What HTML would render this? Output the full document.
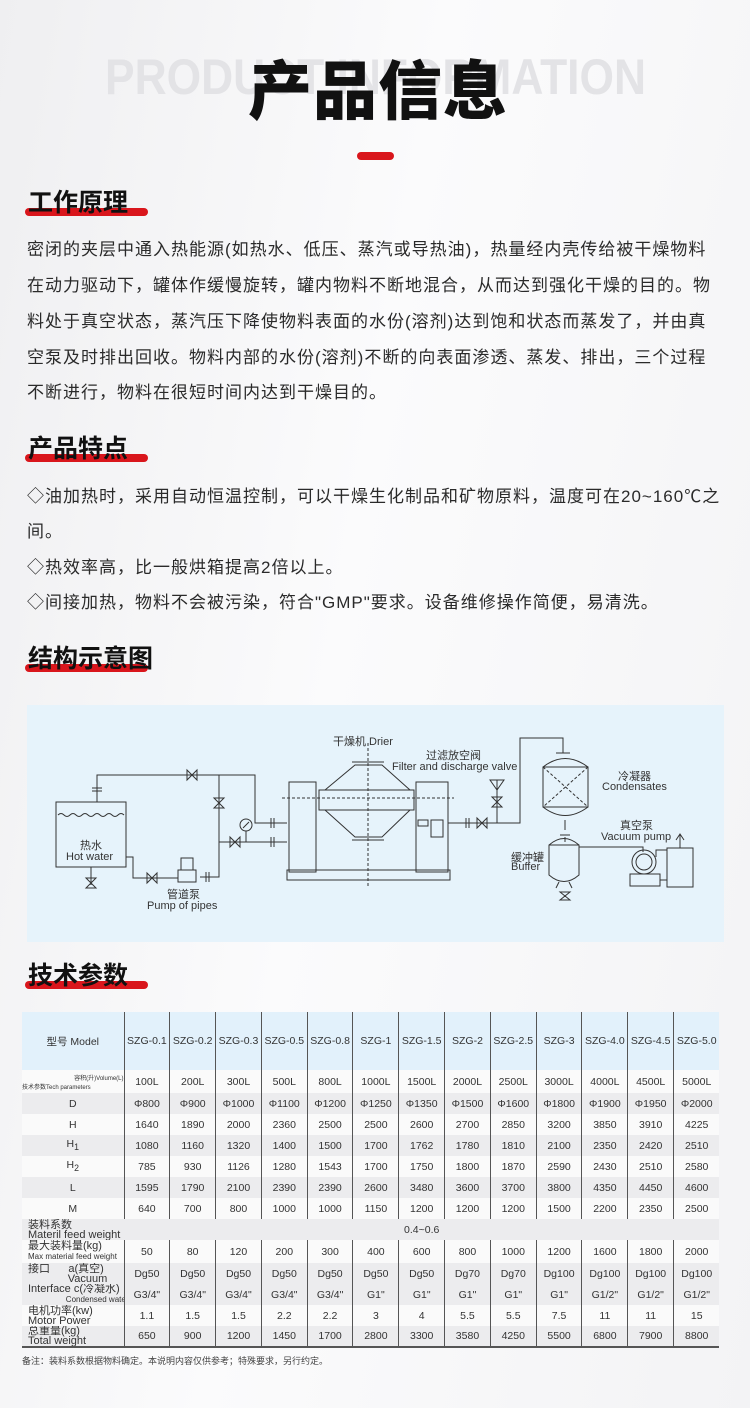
<!DOCTYPE html>
<html><head><meta charset="utf-8"><style>
*{margin:0;padding:0;box-sizing:border-box}
body{width:750px;height:1408px;position:relative;overflow:hidden;background:linear-gradient(100deg,#efeff1 0%,#fbfbfc 45%,#f3f3f5 100%);font-family:"Liberation Sans","Noto Sans CJK SC",sans-serif;color:#222}
.abs{position:absolute;white-space:nowrap}
.h{position:absolute;left:28px;font-size:25px;font-weight:bold;color:#111;line-height:26px}
.bar{position:absolute;left:25px;width:123px;height:8px;background:#d9161c;border-radius:4px}
.p{position:absolute;left:27px;font-size:17px;letter-spacing:1px;color:#2a2a2a;line-height:20px;white-space:nowrap}
table{position:absolute;left:22px;top:1012px;width:697px;border-collapse:collapse;font-size:10.5px;color:#333;table-layout:fixed}
td{text-align:center;height:21px;padding:0;white-space:nowrap;overflow:hidden}
td+td{border-left:1px solid #555}
tr.g td{background:#ececee}
tr.w td{background:#fafafa}
.l{text-align:left;padding-left:6px;line-height:10px;font-size:11px}
.l small{font-size:8px}
</style></head><body>
<svg class="abs" style="left:0;top:50px" width="750" height="60"><text x="105" y="44" textLength="541" lengthAdjust="spacingAndGlyphs" font-size="50" font-weight="bold" fill="#e3e3e6" font-family="Liberation Sans">PRODUCT INFORMATION</text></svg>
<div class="abs" style="left:248px;top:52px;font-size:64px;font-weight:900;color:#111;line-height:80px;letter-spacing:1px">产品信息</div>
<div class="abs" style="left:357px;top:152px;width:37px;height:8px;background:#d9161c;border-radius:4px"></div>

<div class="bar" style="top:208px"></div><div class="h" style="top:190px">工作原理</div>
<div class="p" style="top:240px">密闭的夹层中通入热能源(如热水、低压、蒸汽或导热油)，热量经内壳传给被干燥物料</div>
<div class="p" style="top:276px">在动力驱动下，罐体作缓慢旋转，罐内物料不断地混合，从而达到强化干燥的目的。物</div>
<div class="p" style="top:312px">料处于真空状态，蒸汽压下降使物料表面的水份(溶剂)达到饱和状态而蒸发了，并由真</div>
<div class="p" style="top:348px">空泵及时排出回收。物料内部的水份(溶剂)不断的向表面渗透、蒸发、排出，三个过程</div>
<div class="p" style="top:383px">不断进行，物料在很短时间内达到干燥目的。</div>

<div class="bar" style="top:454px"></div><div class="h" style="top:436px">产品特点</div>
<div class="p" style="top:487px">◇油加热时，采用自动恒温控制，可以干燥生化制品和矿物原料，温度可在20~160℃之</div>
<div class="p" style="top:522px">间。</div>
<div class="p" style="top:558px">◇热效率高，比一般烘箱提高2倍以上。</div>
<div class="p" style="top:593px">◇间接加热，物料不会被污染，符合"GMP"要求。设备维修操作简便，易清洗。</div>

<div class="bar" style="top:664px"></div><div class="h" style="top:646px">结构示意图</div>

<svg class="abs" style="left:0;top:0" width="750" height="960" fill="none" stroke="#333" stroke-width="1">
<rect x="27" y="705" width="697" height="237" fill="#e6f3fb" stroke="none"/>
<rect x="56" y="802" width="70" height="65"/>
<path d="M58 815 q3 -3 6 0 t6 0 t6 0 t6 0 t6 0 t6 0 t6 0 t6 0 t6 0 t6 0 t6 0"/>
<path d="M97 802 V775 H255 V823 H287 M219 775 V877 H200 M219 842 H287 M126 857 H133 V878 H178 M91 867 V885"/>
<path d="M92 788 h10 M92 791 h10 M271 818 v10 M274 818 v10 M271 837 v10 M274 837 v10 M206 872 v10 M209 872 v10"/>
<path d="M187 770 l10 10 v-10 l-10 10z M214 798 l10 10 h-10 l10 -10z M230 837 l10 10 v-10 l-10 10z M147 873 l10 10 v-10 l-10 10z M86 878 l10 10 h-10 l10 -10z"/>
<circle cx="246" cy="825" r="6"/><path d="M246 831 V842 M243 828 l6 -6"/>
<rect x="178" y="870" width="18" height="12"/><rect x="181" y="858" width="12" height="12"/>
<rect x="289" y="782" width="27" height="90"/><rect x="416" y="782" width="32" height="90"/>
<rect x="287" y="870" width="163" height="10"/>
<rect x="319" y="790" width="95" height="20"/>
<path d="M325 790 L355 765 H382 L410 790 M325 810 L355 837 H382 L410 810 M352 762 h32 M352 840 h32"/>
<path d="M368 743 V888 M282 798 H454" stroke-dasharray="3 2"/>
<rect x="418" y="820" width="10" height="6"/><rect x="431" y="820" width="12" height="17"/>
<path d="M448 823 H520 V738 H563 V753 M497 823 V780"/>
<path d="M466 818 v10 M469 818 v10 M477 818 l10 10 v-10 l-10 10z M492 797 l10 10 h-10 l10 -10z M490 780 h14 l-7 10z"/>
<path d="M556 753 h14 M543 767 Q565 750 588 767 M543 807 Q565 824 588 807"/>
<rect x="543" y="767" width="45" height="40"/>
<path d="M543 767 L588 807 M588 767 L543 807" stroke-dasharray="3 2"/>
<path d="M565 820 V830 M560 835 h10 M565 837 V842"/>
<path d="M549 845 Q564 832 579 845 V875 Q564 888 549 875Z M549 845 H579 M579 847 H643 V852 M559 882 l-3 6 M569 882 l3 6 M560 892 l10 8 h-10 l10 -8z"/>
<circle cx="644" cy="862" r="12"/><circle cx="644" cy="862" r="8"/>
<rect x="630" y="874" width="30" height="12"/>
<rect x="667" y="848" width="26" height="39"/><path d="M680 848 V835 M676 840 l4 -6 4 6"/>
<path d="M656 857 V850 H667 M660 880 H667"/>
</svg>
<div class="abs" style="left:333px;top:733px;font-size:11px;color:#333">干燥机 Drier</div>
<div class="abs" style="left:426px;top:747px;font-size:11px;color:#333">过滤放空阀</div>
<div class="abs" style="left:392px;top:761px;font-size:11px;color:#333">Filter and discharge valve</div>
<div class="abs" style="left:618px;top:768px;font-size:11px;color:#333">冷凝器</div>
<div class="abs" style="left:602px;top:781px;font-size:11px;color:#333">Condensates</div>
<div class="abs" style="left:620px;top:817px;font-size:11px;color:#333">真空泵</div>
<div class="abs" style="left:601px;top:831px;font-size:11px;color:#333">Vacuum pump</div>
<div class="abs" style="left:511px;top:849px;font-size:11px;color:#333">缓冲罐</div>
<div class="abs" style="left:511px;top:861px;font-size:11px;color:#333">Buffer</div>
<div class="abs" style="left:80px;top:837px;font-size:11px;color:#333">热水</div>
<div class="abs" style="left:66px;top:851px;font-size:11px;color:#333">Hot water</div>
<div class="abs" style="left:167px;top:886px;font-size:11px;color:#333">管道泵</div>
<div class="abs" style="left:147px;top:900px;font-size:11px;color:#333">Pump of pipes</div>

<div class="bar" style="top:981px"></div><div class="h" style="top:963px">技术参数</div>

<table>
<colgroup><col style="width:102px"><col span="13" style="width:45.8px"></colgroup>
<tr style="height:58px"><td style="background:#e2f1fb">型号 Model</td><td style="background:#e2f1fb">SZG-0.1</td><td style="background:#e2f1fb">SZG-0.2</td><td style="background:#e2f1fb">SZG-0.3</td><td style="background:#e2f1fb">SZG-0.5</td><td style="background:#e2f1fb">SZG-0.8</td><td style="background:#e2f1fb">SZG-1</td><td style="background:#e2f1fb">SZG-1.5</td><td style="background:#e2f1fb">SZG-2</td><td style="background:#e2f1fb">SZG-2.5</td><td style="background:#e2f1fb">SZG-3</td><td style="background:#e2f1fb">SZG-4.0</td><td style="background:#e2f1fb">SZG-4.5</td><td style="background:#e2f1fb">SZG-5.0</td></tr>
<tr class="w" style="height:23px"><td style="font-size:6px;text-align:right">容积(升)Volume(L)<br><span style="float:left">技术参数Tech parameters</span></td><td>100L</td><td>200L</td><td>300L</td><td>500L</td><td>800L</td><td>1000L</td><td>1500L</td><td>2000L</td><td>2500L</td><td>3000L</td><td>4000L</td><td>4500L</td><td>5000L</td></tr>
<tr class="g"><td>D</td><td>Φ800</td><td>Φ900</td><td>Φ1000</td><td>Φ1100</td><td>Φ1200</td><td>Φ1250</td><td>Φ1350</td><td>Φ1500</td><td>Φ1600</td><td>Φ1800</td><td>Φ1900</td><td>Φ1950</td><td>Φ2000</td></tr>
<tr class="w"><td>H</td><td>1640</td><td>1890</td><td>2000</td><td>2360</td><td>2500</td><td>2500</td><td>2600</td><td>2700</td><td>2850</td><td>3200</td><td>3850</td><td>3910</td><td>4225</td></tr>
<tr class="g"><td>H<sub>1</sub></td><td>1080</td><td>1160</td><td>1320</td><td>1400</td><td>1500</td><td>1700</td><td>1762</td><td>1780</td><td>1810</td><td>2100</td><td>2350</td><td>2420</td><td>2510</td></tr>
<tr class="w"><td>H<sub>2</sub></td><td>785</td><td>930</td><td>1126</td><td>1280</td><td>1543</td><td>1700</td><td>1750</td><td>1800</td><td>1870</td><td>2590</td><td>2430</td><td>2510</td><td>2580</td></tr>
<tr class="g"><td>L</td><td>1595</td><td>1790</td><td>2100</td><td>2390</td><td>2390</td><td>2600</td><td>3480</td><td>3600</td><td>3700</td><td>3800</td><td>4350</td><td>4450</td><td>4600</td></tr>
<tr class="w"><td>M</td><td>640</td><td>700</td><td>800</td><td>1000</td><td>1000</td><td>1150</td><td>1200</td><td>1200</td><td>1200</td><td>1500</td><td>2200</td><td>2350</td><td>2500</td></tr>
<tr class="g"><td class="l">装料系数<br>Materil feed weight</td><td colspan="13" style="border-left:none">0.4~0.6</td></tr>
<tr class="w" style="height:23px"><td class="l">最大装料量(kg)<br><small>Max material feed weight</small></td><td>50</td><td>80</td><td>120</td><td>200</td><td>300</td><td>400</td><td>600</td><td>800</td><td>1000</td><td>1200</td><td>1600</td><td>1800</td><td>2000</td></tr>
<tr class="g"><td class="l">接口&nbsp;&nbsp;&nbsp;&nbsp;&nbsp;&nbsp;a(真空)<br>&nbsp;&nbsp;&nbsp;&nbsp;&nbsp;&nbsp;&nbsp;&nbsp;&nbsp;&nbsp;&nbsp;&nbsp;&nbsp;Vacuum</td><td>Dg50</td><td>Dg50</td><td>Dg50</td><td>Dg50</td><td>Dg50</td><td>Dg50</td><td>Dg50</td><td>Dg70</td><td>Dg70</td><td>Dg100</td><td>Dg100</td><td>Dg100</td><td>Dg100</td></tr>
<tr class="g"><td class="l">Interface c(冷凝水)<br><small>&nbsp;&nbsp;&nbsp;&nbsp;&nbsp;&nbsp;&nbsp;&nbsp;&nbsp;&nbsp;&nbsp;&nbsp;&nbsp;&nbsp;&nbsp;&nbsp;&nbsp;Condensed water</small></td><td>G3/4"</td><td>G3/4"</td><td>G3/4"</td><td>G3/4"</td><td>G3/4"</td><td>G1"</td><td>G1"</td><td>G1"</td><td>G1"</td><td>G1"</td><td>G1/2"</td><td>G1/2"</td><td>G1/2"</td></tr>
<tr class="w"><td class="l">电机功率(kw)<br>Motor Power</td><td>1.1</td><td>1.5</td><td>1.5</td><td>2.2</td><td>2.2</td><td>3</td><td>4</td><td>5.5</td><td>5.5</td><td>7.5</td><td>11</td><td>11</td><td>15</td></tr>
<tr class="g" style="border-bottom:2px solid #555"><td class="l">总重量(kg)<br>Total weight</td><td>650</td><td>900</td><td>1200</td><td>1450</td><td>1700</td><td>2800</td><td>3300</td><td>3580</td><td>4250</td><td>5500</td><td>6800</td><td>7900</td><td>8800</td></tr>
</table>
<div class="abs" style="left:22px;top:1354px;font-size:9px;color:#444">备注：装料系数根据物料确定。本说明内容仅供参考；特殊要求，另行约定。</div>
</body></html>
